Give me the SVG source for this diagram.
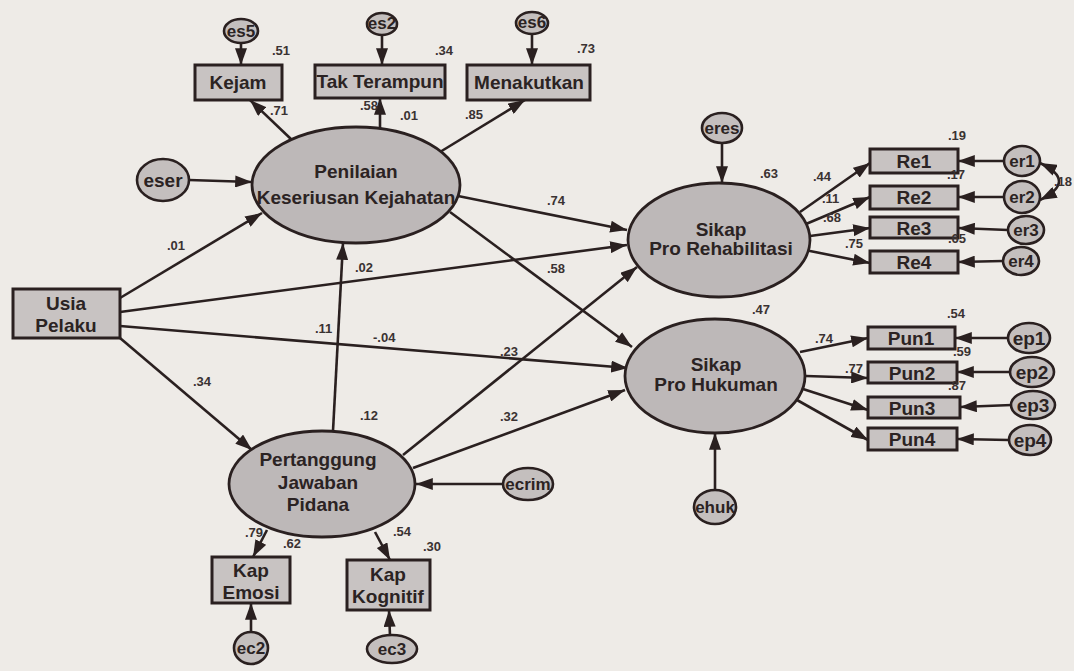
<svg xmlns="http://www.w3.org/2000/svg" width="1074" height="671" viewBox="0 0 1074 671">
<defs>
<marker id="ah" viewBox="0 0 14 10" refX="14" refY="5" markerWidth="17" markerHeight="12" markerUnits="userSpaceOnUse" orient="auto-start-reverse"><path d="M0,0 L14,5 L0,10 z" fill="#2a2020"/></marker>
<style>
.bg{fill:#eeebe7}
.lat{fill:#bdb8b8;stroke:#2a2020;stroke-width:2.8}
.err{fill:#c4bfbe;stroke:#2a2020;stroke-width:2.6}
.box{fill:#c8c3c2;stroke:#2a2020;stroke-width:3}
.t{font-family:"Liberation Sans",Arial,sans-serif;font-weight:bold;font-size:19px;fill:#2b2323;text-anchor:middle}
.s{font-family:"Liberation Sans",Arial,sans-serif;font-weight:bold;font-size:17px;fill:#2b2323;text-anchor:middle}
.c{font-family:"Liberation Sans",Arial,sans-serif;font-weight:bold;font-size:13px;fill:#3a3232}
.cn line,.cn path{stroke:#2a2020;stroke-width:2.6;fill:none;marker-end:url(#ah)}
.cn path.dbl{marker-start:url(#ah)}
</style>
</defs>
<rect class="bg" x="0" y="0" width="1074" height="671"/>

<g id="connectors" class="cn">
<line x1="241" y1="43" x2="241" y2="65"/>
<line x1="382" y1="35" x2="382" y2="65"/>
<line x1="532" y1="34" x2="532" y2="65"/>
<line x1="292" y1="140" x2="250" y2="100"/>
<line x1="380" y1="128" x2="380" y2="98"/>
<line x1="440" y1="152" x2="525" y2="100"/>
<line x1="189" y1="180" x2="252" y2="182"/>
<line x1="120" y1="298" x2="262" y2="213"/>
<line x1="120" y1="312" x2="627" y2="245"/>
<line x1="120" y1="326" x2="628" y2="368"/>
<line x1="120" y1="338" x2="252" y2="450"/>
<line x1="333" y1="431" x2="343" y2="243"/>
<line x1="458" y1="196" x2="627" y2="230"/>
<line x1="450" y1="212" x2="632" y2="347"/>
<line x1="403" y1="455" x2="637" y2="267"/>
<line x1="413" y1="468" x2="625" y2="390"/>
<line x1="503" y1="484" x2="416" y2="484"/>
<line x1="267" y1="530" x2="253" y2="557"/>
<line x1="375" y1="532" x2="390" y2="560"/>
<line x1="251" y1="632" x2="251" y2="603"/>
<line x1="390" y1="636" x2="389" y2="610"/>
<line x1="722" y1="143" x2="722" y2="183"/>
<line x1="800" y1="212" x2="870" y2="163"/>
<line x1="806" y1="224" x2="870" y2="197"/>
<line x1="810" y1="236" x2="870" y2="228"/>
<line x1="805" y1="250" x2="870" y2="263"/>
<line x1="1004" y1="161" x2="958" y2="161"/>
<line x1="1004" y1="197" x2="958" y2="197"/>
<line x1="1008" y1="230" x2="958" y2="228"/>
<line x1="1003" y1="261" x2="958" y2="262"/>
<path class="dbl" d="M1040,163 Q1078,181 1040,200"/>
<line x1="715" y1="490" x2="715" y2="433"/>
<line x1="800" y1="352" x2="868" y2="338"/>
<line x1="806" y1="376" x2="868" y2="378"/>
<line x1="803" y1="389" x2="868" y2="410"/>
<line x1="797" y1="400" x2="868" y2="440"/>
<line x1="1008" y1="338" x2="955" y2="338"/>
<line x1="1011" y1="372" x2="957" y2="372"/>
<line x1="1012" y1="405" x2="960" y2="407"/>
<line x1="1009" y1="440" x2="957" y2="439"/>
</g>

<g id="es5"><ellipse class="err" cx="241" cy="31" rx="17" ry="12"/><text class="s" x="241" y="37" font-size="14">es5</text></g>
<g id="es2"><ellipse class="err" cx="382" cy="24" rx="15" ry="11"/><text class="s" x="382" y="29" font-size="13">es2</text></g>
<g id="es6"><ellipse class="err" cx="532" cy="23" rx="16" ry="11"/><text class="s" x="532" y="28" font-size="13">es6</text></g>
<g id="kejam"><rect class="box" x="195" y="65" width="87" height="35"/><text class="t" x="238" y="89">Kejam</text></g>
<g id="takterampuni"><rect class="box" x="315" y="65" width="130" height="33"/><text class="t" x="380" y="88">Tak Terampun</text></g>
<g id="menakutkan"><rect class="box" x="467" y="65" width="123" height="35"/><text class="t" x="529" y="89">Menakutkan</text></g>
<g id="eser"><ellipse class="err" cx="163" cy="180" rx="26" ry="21"/><text class="t" x="163" y="187">eser</text></g>
<g id="penilaian"><ellipse class="lat" cx="356" cy="185" rx="104" ry="58"/><text class="t" x="356" y="178">Penilaian</text><text class="t" x="356" y="204">Keseriusan Kejahatan</text></g>
<g id="usia"><rect class="box" x="13" y="289" width="107" height="49"/><text class="t" x="66" y="310">Usia</text><text class="t" x="66" y="332">Pelaku</text></g>
<g id="pertanggung"><ellipse class="lat" cx="322" cy="484" rx="93" ry="53"/><text class="t" x="318" y="466">Pertanggung</text><text class="t" x="318" y="489">Jawaban</text><text class="t" x="318" y="511">Pidana</text></g>
<g id="ecrim"><ellipse class="err" cx="528" cy="484" rx="25" ry="16"/><text class="s" x="528" y="490">ecrim</text></g>
<g id="kapemosi"><rect class="box" x="212" y="557" width="78" height="46"/><text class="t" x="251" y="577">Kap</text><text class="t" x="251" y="599">Emosi</text></g>
<g id="kapkognitif"><rect class="box" x="347" y="560" width="83" height="50"/><text class="t" x="388" y="581">Kap</text><text class="t" x="388" y="603">Kognitif</text></g>
<g id="ec2"><ellipse class="err" cx="251" cy="648" rx="17" ry="16"/><text class="s" x="251" y="654">ec2</text></g>
<g id="ec3"><ellipse class="err" cx="392" cy="649" rx="25" ry="14"/><text class="s" x="392" y="655">ec3</text></g>
<g id="eres"><ellipse class="err" cx="722" cy="128" rx="20" ry="15"/><text class="s" x="722" y="134" font-size="15">eres</text></g>
<g id="rehab"><ellipse class="lat" cx="719" cy="240" rx="91" ry="57"/><text class="t" x="721" y="236">Sikap</text><text class="t" x="721" y="255">Pro Rehabilitasi</text></g>
<g id="re1"><rect class="box" x="870" y="149" width="88" height="24"/><text class="t" x="914" y="168">Re1</text></g>
<g id="re2"><rect class="box" x="870" y="186" width="88" height="23"/><text class="t" x="914" y="204">Re2</text></g>
<g id="re3"><rect class="box" x="870" y="217" width="88" height="21"/><text class="t" x="914" y="235">Re3</text></g>
<g id="re4"><rect class="box" x="870" y="251" width="88" height="22"/><text class="t" x="914" y="269">Re4</text></g>
<g id="er1"><ellipse class="err" cx="1022" cy="161" rx="18" ry="15"/><text class="s" x="1022" y="167">er1</text></g>
<g id="er2"><ellipse class="err" cx="1022" cy="197" rx="18" ry="16"/><text class="s" x="1022" y="203">er2</text></g>
<g id="er3"><ellipse class="err" cx="1026" cy="230" rx="18" ry="14"/><text class="s" x="1026" y="236">er3</text></g>
<g id="er4"><ellipse class="err" cx="1021" cy="261" rx="18" ry="14"/><text class="s" x="1021" y="267">er4</text></g>
<g id="hukuman"><ellipse class="lat" cx="715" cy="376" rx="90" ry="57"/><text class="t" x="716" y="371">Sikap</text><text class="t" x="716" y="391">Pro Hukuman</text></g>
<g id="ehuk"><ellipse class="err" cx="715" cy="507" rx="21" ry="17"/><text class="s" x="715" y="513">ehuk</text></g>
<g id="pun1"><rect class="box" x="868" y="327" width="87" height="22"/><text class="t" x="911" y="345">Pun1</text></g>
<g id="pun2"><rect class="box" x="868" y="362" width="89" height="21"/><text class="t" x="912" y="380">Pun2</text></g>
<g id="pun3"><rect class="box" x="868" y="397" width="92" height="21"/><text class="t" x="912" y="415">Pun3</text></g>
<g id="pun4"><rect class="box" x="868" y="428" width="89" height="22"/><text class="t" x="912" y="446">Pun4</text></g>
<g id="ep1"><ellipse class="err" cx="1029" cy="338" rx="21" ry="15"/><text class="t" x="1029" y="345">ep1</text></g>
<g id="ep2"><ellipse class="err" cx="1032" cy="372" rx="22" ry="15"/><text class="t" x="1032" y="379">ep2</text></g>
<g id="ep3"><ellipse class="err" cx="1033" cy="405" rx="22" ry="14"/><text class="t" x="1033" y="412">ep3</text></g>
<g id="ep4"><ellipse class="err" cx="1030" cy="440" rx="21" ry="15"/><text class="t" x="1030" y="447">ep4</text></g>

<g id="labels">
<text class="c" x="272" y="55">.51</text>
<text class="c" x="435" y="55">.34</text>
<text class="c" x="577" y="53">.73</text>
<text class="c" x="270" y="115">.71</text>
<text class="c" x="360" y="110">.58</text>
<text class="c" x="400" y="120">.01</text>
<text class="c" x="465" y="119">.85</text>
<text class="c" x="547" y="205">.74</text>
<text class="c" x="167" y="250">.01</text>
<text class="c" x="355" y="272">.02</text>
<text class="c" x="547" y="273">.58</text>
<text class="c" x="315" y="333">.11</text>
<text class="c" x="373" y="342">-.04</text>
<text class="c" x="500" y="356">.23</text>
<text class="c" x="193" y="386">.34</text>
<text class="c" x="360" y="420">.12</text>
<text class="c" x="500" y="421">.32</text>
<text class="c" x="245" y="537">.79</text>
<text class="c" x="283" y="548">.62</text>
<text class="c" x="393" y="536">.54</text>
<text class="c" x="423" y="551">.30</text>
<text class="c" x="760" y="178">.63</text>
<text class="c" x="813" y="181">.44</text>
<text class="c" x="948" y="140">.19</text>
<text class="c" x="947" y="179">.17</text>
<text class="c" x="822" y="203">.11</text>
<text class="c" x="823" y="222">.68</text>
<text class="c" x="845" y="248">.75</text>
<text class="c" x="948" y="243">.65</text>
<text class="c" x="1054" y="186" font-size="12">.18</text>
<text class="c" x="752" y="314">.47</text>
<text class="c" x="947" y="318">.54</text>
<text class="c" x="815" y="343">.74</text>
<text class="c" x="953" y="356">.59</text>
<text class="c" x="845" y="373">.77</text>
<text class="c" x="948" y="390">.87</text>
</g>
</svg>
